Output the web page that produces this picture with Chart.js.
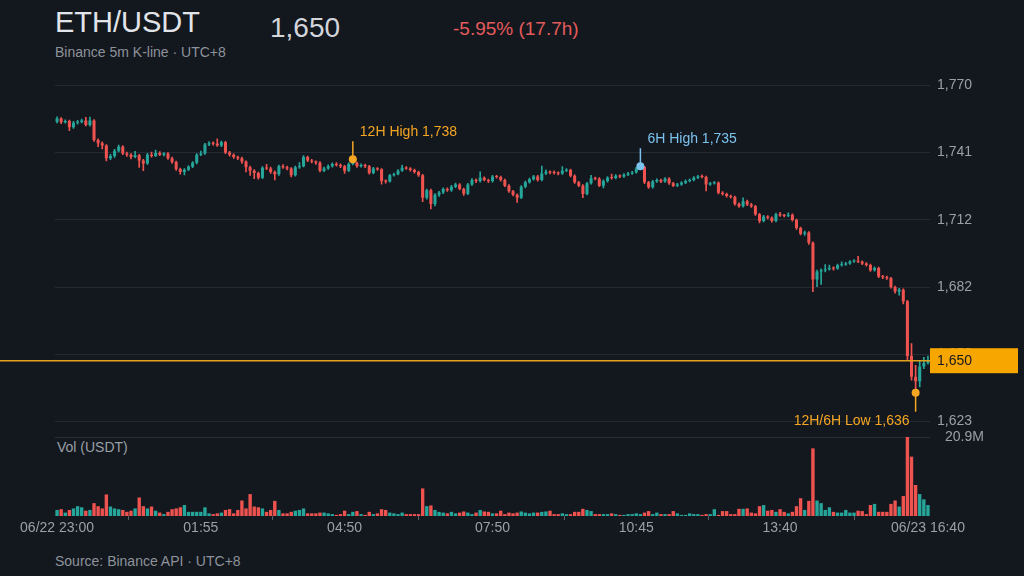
<!DOCTYPE html>
<html>
<head>
<meta charset="utf-8">
<script src="https://cdn.jsdelivr.net/npm/chart.js@4.4.1/dist/chart.umd.min.js"></script>
<style>
  html, body { margin: 0; padding: 0; background: #13171e; }
  body { width: 1024px; height: 576px; position: relative; overflow: hidden; font-family: "Liberation Sans", Arial, sans-serif; }
  .txt { position: absolute; white-space: nowrap; line-height: 1; }
  canvas { position: absolute; left: 0; }
</style>
</head>
<body>
<div class="txt" style="left:55px;top:8px;font-size:29px;color:#e1e4e8;">ETH/USDT</div>
<div class="txt" id="last" style="left:270px;top:14px;font-size:28px;color:#d2d6db;"></div>
<div class="txt" id="chg" style="left:453px;top:19px;font-size:19px;color:#e35b5b;"></div>
<div class="txt" style="left:55px;top:45px;font-size:14px;color:#8d939b;">Binance 5m K-line · UTC+8</div>
<div class="txt" style="left:57px;top:440px;font-size:14px;color:#9aa0a7;">Vol (USDT)</div>
<div class="txt" style="left:55px;top:554px;font-size:14px;color:#8d939b;">Source: Binance API · UTC+8</div>
<canvas id="price" width="1024" height="455" style="top:0"></canvas>
<canvas id="vol" width="1024" height="130" style="top:420px"></canvas>
<script>
// ETH/USDT 5m candles, 06/22 23:00 -> 06/23 16:40 (213 bars)
const startOpen = 1754.4;

const closes = [
  1755.8,1754.2,1754.8,1752.0,1754.0,1754.3,1755.0,1753.0,1755.0,1746.5,
  1745.0,1744.0,1738.5,1739.5,1741.8,1743.5,1740.5,1740.0,1739.0,1739.8,
  1737.5,1736.2,1740.0,1739.5,1740.8,1740.0,1740.5,1738.5,1736.8,1733.8,
  1732.5,1733.5,1734.8,1736.5,1740.0,1740.5,1744.5,1745.0,1744.8,1744.0,
  1745.5,1741.0,1740.0,1739.0,1738.5,1737.0,1734.5,1733.0,1732.0,1730.0,
  1734.3,1734.0,1732.5,1731.5,1735.0,1734.5,1734.0,1731.0,1734.5,1735.0,
  1739.0,1737.5,1737.0,1736.5,1733.0,1734.0,1735.0,1736.0,1735.5,1735.0,
  1733.0,1736.0,1736.5,1735.0,1735.5,1735.0,1732.0,1734.0,1733.7,1728.5,
  1728.3,1731.0,1731.5,1733.0,1734.3,1734.0,1733.3,1732.5,1731.0,1721.2,
  1724.5,1718.5,1722.5,1723.5,1725.0,1724.5,1726.0,1727.0,1725.0,1723.0,
  1727.0,1729.0,1728.5,1730.0,1729.0,1728.5,1730.5,1730.3,1729.0,1726.5,
  1724.0,1722.5,1721.2,1726.0,1728.0,1729.3,1730.5,1729.0,1731.8,1732.6,
  1732.2,1732.0,1731.8,1733.0,1733.3,1730.8,1728.0,1726.5,1722.8,1727.5,
  1729.7,1729.5,1726.5,1728.5,1730.0,1729.8,1730.8,1730.5,1731.3,1731.8,
  1732.3,1734.0,1734.6,1728.0,1725.8,1728.3,1729.0,1728.3,1729.5,1727.5,
  1726.5,1727.0,1727.8,1728.5,1729.0,1730.0,1730.5,1730.3,1727.0,1727.5,
  1727.8,1723.4,1722.8,1722.0,1721.5,1718.5,1717.5,1719.7,1718.3,1717.5,
  1714.0,1711.0,1713.0,1712.5,1711.0,1714.0,1713.5,1713.3,1713.8,1711.5,
  1708.0,1705.5,1706.0,1701.5,1685.5,1689.0,1689.5,1690.0,1690.5,1690.3,
  1691.7,1692.0,1692.5,1693.3,1693.6,1693.2,1692.5,1691.8,1689.5,1690.5,
  1686.8,1686.5,1686.0,1682.2,1680.2,1681.0,1676.0,1652.0,1643.0,1641.0,
  1647.5,1649.0,1650.0
];

const highs = [
  1756.6,1756.3,1755.3,1755.2,1754.6,1755.0,1755.6,1756.4,1756.5,1755.4,
  1747.0,1745.6,1744.5,1740.2,1742.4,1744.2,1744.0,1741.2,1740.5,1741.5,
  1740.2,1738.0,1740.6,1741.2,1742.0,1741.4,1741.0,1741.0,1739.0,1737.2,
  1734.2,1734.0,1735.3,1737.0,1740.5,1741.6,1745.0,1745.8,1745.6,1747.0,
  1746.0,1745.9,1741.5,1740.4,1739.4,1739.0,1737.4,1735.0,1733.5,1732.4,
  1734.8,1735.8,1734.6,1733.0,1735.5,1735.7,1735.0,1734.4,1735.0,1736.6,
  1739.6,1739.4,1738.0,1737.4,1737.0,1734.6,1735.6,1736.5,1736.6,1736.0,
  1735.4,1736.5,1738.0,1736.8,1736.0,1735.9,1735.4,1734.5,1734.4,1734.0,
  1729.0,1731.5,1732.0,1733.5,1735.5,1734.8,1734.4,1733.7,1732.9,1731.4,
  1725.0,1725.0,1723.0,1724.0,1725.6,1725.6,1726.6,1727.6,1727.4,1725.4,
  1727.5,1729.6,1729.5,1732.5,1730.4,1729.4,1731.0,1731.0,1730.7,1729.4,
  1727.0,1724.4,1722.9,1726.5,1728.5,1729.8,1731.0,1731.0,1735.0,1733.4,
  1733.0,1733.0,1732.5,1734.8,1734.0,1733.7,1731.2,1728.4,1727.0,1728.0,
  1731.0,1730.2,1730.0,1729.0,1730.5,1731.6,1731.3,1731.2,1731.8,1732.3,
  1732.8,1734.5,1735.0,1734.9,1728.4,1728.8,1729.5,1729.4,1730.0,1730.0,
  1727.9,1727.5,1728.3,1729.0,1729.5,1730.5,1731.0,1731.2,1730.7,1728.0,
  1728.3,1728.2,1723.9,1723.2,1722.4,1721.9,1719.0,1721.2,1720.2,1718.8,
  1717.9,1714.4,1713.5,1713.4,1712.9,1714.5,1714.8,1714.0,1714.6,1714.2,
  1711.9,1708.4,1706.6,1706.4,1702.0,1689.6,1690.2,1692.0,1691.8,1691.0,
  1692.2,1693.2,1693.0,1693.8,1694.2,1695.6,1693.6,1692.9,1692.2,1691.0,
  1690.9,1687.3,1687.0,1686.4,1682.6,1681.6,1681.4,1676.4,1657.5,1648.0,
  1650.0,1651.5,1652.0
];

const lows = [
  1753.9,1753.6,1753.8,1750.5,1751.5,1753.4,1753.9,1752.6,1752.5,1745.8,
  1743.5,1742.5,1737.3,1737.8,1738.8,1741.2,1740.0,1739.3,1738.2,1738.6,
  1734.5,1733.0,1735.8,1739.0,1739.2,1739.6,1739.5,1738.0,1736.2,1733.2,
  1731.5,1731.2,1733.0,1734.4,1736.0,1739.6,1740.2,1744.0,1744.2,1743.6,
  1743.5,1740.5,1739.4,1738.4,1737.8,1736.2,1732.5,1731.0,1729.5,1729.3,
  1729.6,1733.5,1731.8,1729.0,1731.0,1734.0,1733.4,1730.3,1730.6,1734.0,
  1734.7,1737.0,1736.4,1735.8,1732.5,1732.6,1733.6,1734.6,1735.0,1734.4,
  1731.8,1732.6,1735.6,1734.5,1734.6,1734.4,1731.5,1731.6,1733.2,1727.2,
  1727.6,1728.0,1730.6,1731.2,1732.7,1733.6,1732.8,1732.0,1730.5,1719.5,
  1720.6,1716.3,1717.6,1721.8,1723.0,1724.0,1724.0,1725.6,1724.6,1722.2,
  1722.6,1726.6,1727.8,1728.0,1728.6,1727.8,1728.0,1729.8,1728.5,1726.0,
  1723.5,1722.0,1719.2,1720.8,1725.5,1727.6,1728.9,1728.5,1728.6,1731.3,
  1731.6,1731.5,1731.2,1731.4,1732.6,1730.3,1727.5,1726.0,1721.3,1722.4,
  1727.2,1729.0,1726.0,1725.5,1728.0,1729.3,1729.4,1730.0,1730.1,1730.9,
  1731.4,1731.9,1733.6,1727.4,1725.3,1725.4,1727.9,1727.8,1727.9,1727.0,
  1726.0,1726.1,1726.6,1727.4,1728.1,1728.6,1729.6,1729.9,1724.2,1726.6,
  1727.1,1722.9,1722.3,1721.5,1721.0,1718.0,1717.0,1717.1,1717.8,1717.0,
  1713.5,1710.2,1710.6,1712.0,1710.5,1710.6,1713.0,1712.8,1712.9,1711.0,
  1707.4,1705.0,1704.8,1700.8,1680.2,1682.4,1683.3,1688.8,1689.6,1689.6,
  1689.9,1691.3,1691.6,1692.1,1692.9,1692.8,1692.0,1691.3,1689.0,1689.1,
  1686.3,1685.9,1685.5,1681.7,1679.5,1678.6,1674.8,1650.5,1641.5,1636.0,
  1638.5,1646.5,1648.5
];

// volume in millions of USDT
const volumes = [
  1.6,1.8,0.9,1.6,2.0,2.6,2.3,1.4,1.6,3.4,
  2.6,2.0,5.7,2.5,2.0,1.8,1.6,1.1,1.4,2.0,
  4.9,2.6,2.0,2.5,1.4,0.9,0.5,1.1,1.8,2.0,
  2.3,2.9,1.1,1.1,1.1,1.1,2.3,0.7,0.5,0.7,
  0.9,1.6,1.8,0.7,1.6,4.1,2.0,5.8,2.5,2.3,
  2.0,1.1,1.6,4.0,1.6,0.7,0.7,1.1,1.4,1.6,
  2.0,0.7,0.7,0.7,0.9,0.9,0.7,0.5,0.3,0.5,
  1.4,0.5,1.1,1.3,0.5,0.3,1.1,0.5,0.7,1.8,
  1.6,0.9,0.7,0.5,0.9,0.5,0.5,0.5,0.5,7.3,
  2.6,2.8,1.6,1.1,0.9,0.7,1.1,0.7,0.9,1.2,
  0.9,0.5,0.9,1.6,1.2,1.1,0.7,0.7,1.4,0.5,
  0.9,0.7,0.9,1.2,0.9,0.7,0.9,0.9,1.1,1.2,
  1.4,0.5,0.5,0.7,0.5,0.5,1.1,1.1,1.9,1.6,
  1.3,0.5,0.5,0.5,0.5,0.7,0.5,0.3,0.3,0.5,
  0.5,0.7,0.5,0.9,1.3,0.5,0.9,0.5,0.5,0.5,
  1.3,0.7,0.3,0.3,0.7,0.5,0.5,0.3,0.5,0.5,
  1.8,0.3,1.3,1.3,0.5,0.5,1.9,1.9,2.0,0.9,
  0.7,2.6,2.9,1.4,1.6,1.1,1.8,1.1,0.7,1.1,
  2.6,4.7,1.6,4.0,17.9,4.1,3.4,1.6,2.3,1.1,
  0.9,0.9,1.6,0.9,0.9,1.4,1.3,0.5,2.9,3.2,
  1.1,1.1,1.1,3.2,4.1,2.5,5.3,20.9,15.7,8.2,
  5.8,4.4,2.9
];

const priceTicks = [1623.4, 1652.8, 1682.2, 1711.6, 1741.0, 1770.4];
const xTickIdx = [0, 35, 70, 106, 141, 176, 212];
const xTickLabels = ['06/22 23:00', '01:55', '04:50', '07:50', '10:45', '13:40', '06/23 16:40'];

const UP = '#26a69a', DOWN = '#ef5350', GOLD = '#f5a623', SKY = '#7cc3ee';
const GRID = '#262b33', TICK = '#9aa0a7';
const FONT = '"Liberation Sans", Arial, sans-serif';

const opens = closes.map((c, i) => i === 0 ? startOpen : closes[i - 1]);
const colors = closes.map((c, i) => c >= opens[i] ? UP : DOWN);
const labels = closes.map((c, i) => i);
const last = closes[closes.length - 1];

const fmt = v => Math.round(v).toLocaleString('en-US');
document.getElementById('last').textContent = fmt(last);
const hours = (closes.length - 1) * 5 / 60;
document.getElementById('chg').textContent =
  ((last / startOpen - 1) * 100).toFixed(2) + '% (' + hours.toFixed(1) + 'h)';

function argExt(arr, from, isMax) {
  let k = from;
  for (let i = from; i < arr.length; i++) {
    if (isMax ? arr[i] > arr[k] : arr[i] < arr[k]) k = i;
  }
  return k;
}
const n = closes.length;
const hi12 = argExt(highs, n - 144, true);
const hi6 = argExt(highs, n - 72, true);
const lo12 = argExt(lows, n - 144, false);

const markerPlugin = {
  id: 'markers',
  afterDatasetsDraw(chart) {
    const { ctx, chartArea, scales } = chart;
    const xs = scales.x, ys = scales.y;
    ctx.save();
    // current price line + tag
    const yl = ys.getPixelForValue(last);
    ctx.strokeStyle = '#e3a21c'; ctx.lineWidth = 1.4;
    ctx.beginPath(); ctx.moveTo(0, yl); ctx.lineTo(chartArea.right, yl); ctx.stroke();
    ctx.fillStyle = '#f7a600';
    ctx.fillRect(chartArea.right, yl - 12.5, 88, 25);
    ctx.fillStyle = '#15181d';
    ctx.font = '14px ' + FONT; ctx.textBaseline = 'middle'; ctx.textAlign = 'left';
    ctx.fillText(fmt(last), chartArea.right + 7, yl + 0.5);

    function mark(idx, val, color, up, text) {
      const x = xs.getPixelForValue(idx), y = ys.getPixelForValue(val);
      ctx.strokeStyle = color; ctx.lineWidth = 1.5;
      ctx.beginPath(); ctx.moveTo(x, y); ctx.lineTo(x, up ? y - 18 : y + 19); ctx.stroke();
      ctx.fillStyle = color;
      ctx.beginPath(); ctx.arc(x, y, 4, 0, Math.PI * 2); ctx.fill();
      ctx.font = '14px ' + FONT; ctx.textBaseline = 'middle';
      if (up) { ctx.textAlign = 'left'; ctx.fillText(text, x + 7, y - 27); }
      else { ctx.textAlign = 'right'; ctx.fillText(text, x - 6, y + 28); }
    }
    mark(hi12, highs[hi12], GOLD, true, '12H High ' + fmt(highs[hi12]));
    mark(hi6, highs[hi6], SKY, true, '6H High ' + fmt(highs[hi6]));
    mark(lo12, lows[lo12], GOLD, false, '12H/6H Low ' + fmt(lows[lo12]));
    ctx.restore();
  }
};

new Chart(document.getElementById('price'), {
  type: 'bar',
  data: {
    labels: labels,
    datasets: [
      {
        data: opens.map((o, i) => [o, closes[i]]),
        backgroundColor: colors,
        barPercentage: 0.74, categoryPercentage: 1, grouped: false,
        minBarLength: 1, order: 0
      },
      {
        data: lows.map((l, i) => [l, highs[i]]),
        backgroundColor: colors,
        barThickness: 1, grouped: false, order: 1
      }
    ]
  },
  options: {
    responsive: false, animation: false,
    layout: { padding: { top: 70, left: 55, right: 0, bottom: 3 } },
    plugins: { legend: { display: false }, tooltip: { enabled: false } },
    scales: {
      x: { display: false },
      y: {
        position: 'right', min: 1615.52, max: 1777.04,
        afterFit: s => { s.width = 94; },
        afterBuildTicks: s => { s.ticks = priceTicks.map(v => ({ value: v })); },
        grid: { color: GRID, drawTicks: false },
        border: { display: false },
        ticks: { color: TICK, font: { family: FONT, size: 14 }, padding: 7, callback: v => fmt(v) }
      }
    }
  },
  plugins: [markerPlugin]
});

const volMax = Math.max.apply(null, volumes);

const dividerPlugin = {
  id: 'divider',
  beforeDatasetsDraw(chart) {
    const { ctx, chartArea } = chart;
    ctx.save();
    ctx.strokeStyle = '#2a2f37'; ctx.lineWidth = 1;
    ctx.beginPath();
    ctx.moveTo(chartArea.left, Math.round(chartArea.top) + 0.5);
    ctx.lineTo(chartArea.right, Math.round(chartArea.top) + 0.5);
    ctx.stroke();
    ctx.restore();
  }
};

new Chart(document.getElementById('vol'), {
  type: 'bar',
  data: {
    labels: labels,
    datasets: [{
      data: volumes,
      backgroundColor: colors,
      barPercentage: 0.82, categoryPercentage: 1
    }]
  },
  options: {
    responsive: false, animation: false,
    layout: { padding: { top: 17, left: 55, right: 0, bottom: 0 } },
    plugins: { legend: { display: false }, tooltip: { enabled: false } },
    scales: {
      x: {
        afterFit: s => { s.height = 34; },
        afterBuildTicks: s => { s.ticks = xTickIdx.map(v => ({ value: v })); },
        grid: { drawOnChartArea: false, drawTicks: true, tickLength: 4, color: '#5a6068' },
        border: { display: false },
        ticks: {
          autoSkip: false, maxRotation: 0, padding: 0, color: TICK,
          font: { family: FONT, size: 14 },
          callback: v => xTickLabels[xTickIdx.indexOf(v)]
        }
      },
      y: {
        position: 'right', min: 0, max: volMax,
        afterFit: s => { s.width = 94; },
        afterBuildTicks: s => { s.ticks = [{ value: volMax }]; },
        grid: { display: false },
        border: { display: false },
        ticks: { color: TICK, font: { family: FONT, size: 14 }, padding: 7, callback: v => v.toFixed(1) + 'M' }
      }
    }
  },
  plugins: [dividerPlugin]
});
</script>
</body>
</html>
